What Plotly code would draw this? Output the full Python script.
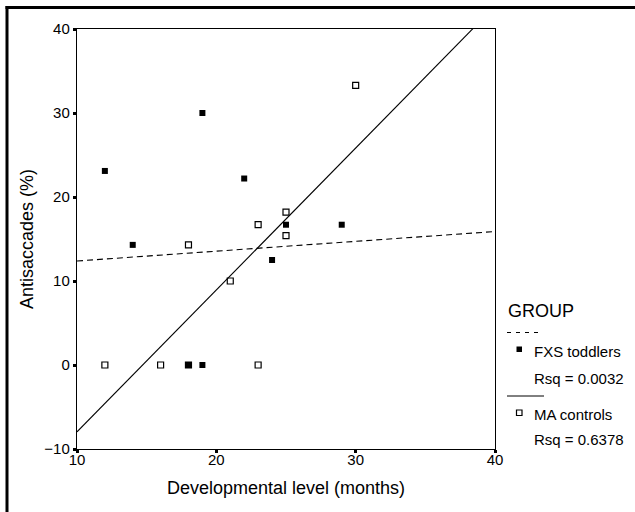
import numpy as np
import plotly.graph_objects as go

# ---------------- data ----------------
fxs_x = [12, 14, 18, 18, 19, 19, 22, 24, 25, 29]
fxs_y = [23.1, 14.3, 0, 0, 0, 30.0, 22.2, 12.5, 16.7, 16.7]
ma_x = [12, 16, 18, 18, 21, 23, 23, 25, 25, 30]
ma_y = [0, 0, 0, 14.3, 10.0, 0, 16.7, 18.2, 15.4, 33.3]
group_names = ["FXS toddlers", "MA controls"]
rsq_labels = ["Rsq = 0.0032", "Rsq = 0.6378"]
x_ticks = [10, 20, 30, 40]
y_ticks = [-10, 0, 10, 20, 30, 40]
x_range = [10, 40]
y_range = [-10, 40]

FONT = "Liberation Sans, Arial, sans-serif"
W, H = 635, 512
ML, MR, MT, MB = 77, 140, 29, 63
PW, PH = W - ML - MR, H - MT - MB


def px(xp):
    return (xp - ML) / PW


def py(yp):
    return (H - MB - yp) / PH


fig = go.Figure()

# scatter points (MA first so FXS sits on top)
fig.add_trace(go.Scatter(
    x=ma_x, y=ma_y, mode="markers", name=group_names[1], showlegend=False,
    marker=dict(symbol="square-open", size=6, color="black", line=dict(width=1.2, color="black")),
    cliponaxis=False))
fig.add_trace(go.Scatter(
    x=fxs_x, y=fxs_y, mode="markers", name=group_names[0], showlegend=False,
    marker=dict(symbol="square", size=6, color="black"),
    cliponaxis=False))

# linear fit lines computed from the data
for xs, ys, dash in [(fxs_x, fxs_y, "6px,4px"), (ma_x, ma_y, "solid")]:
    slope, icpt = np.polyfit(xs, ys, 1)
    lx = np.array(x_range, dtype=float)
    fig.add_trace(go.Scatter(
        x=lx, y=icpt + slope * lx, mode="lines", showlegend=False,
        line=dict(color="black", width=1.1, dash=dash), hoverinfo="skip"))

shapes = []
# outer frame lines (top and left)
shapes.append(dict(type="line", xref="paper", yref="paper",
                   x0=px(5.5), x1=px(640), y0=py(7.5), y1=py(7.5),
                   line=dict(color="black", width=3)))
shapes.append(dict(type="line", xref="paper", yref="paper",
                   x0=px(7), x1=px(7), y0=py(6), y1=py(520),
                   line=dict(color="black", width=3)))
# legend samples
shapes.append(dict(type="line", xref="paper", yref="paper",
                   x0=px(507), x1=px(543), y0=py(332.5), y1=py(332.5),
                   line=dict(color="black", width=1, dash="4px,5px")))
shapes.append(dict(type="rect", xref="paper", yref="paper",
                   x0=px(516.5), x1=px(522), y0=py(346.5), y1=py(352),
                   fillcolor="black", line=dict(width=0)))
shapes.append(dict(type="line", xref="paper", yref="paper",
                   x0=px(507), x1=px(544), y0=py(396), y1=py(396),
                   line=dict(color="black", width=1)))
shapes.append(dict(type="rect", xref="paper", yref="paper",
                   x0=px(516.5), x1=px(522), y0=py(410), y1=py(415.5),
                   fillcolor="white", line=dict(width=1.2, color="black")))

annotations = [
    dict(text="GROUP", x=px(506), y=py(311), font=dict(size=18)),
    dict(text=group_names[0], x=px(532), y=py(351), font=dict(size=15)),
    dict(text=rsq_labels[0], x=px(532), y=py(378), font=dict(size=15)),
    dict(text=group_names[1], x=px(532), y=py(414), font=dict(size=15)),
    dict(text=rsq_labels[1], x=px(532), y=py(439), font=dict(size=15)),
]
for a in annotations:
    a.update(xref="paper", yref="paper", xanchor="left", yanchor="middle",
             showarrow=False)
    a["font"].update(family=FONT, color="black")

axis_common = dict(
    showgrid=False, zeroline=False, showline=True, mirror=True,
    linecolor="black", linewidth=1.4, ticks="outside", ticklen=3, tickwidth=3,
    tickcolor="black", tickfont=dict(family=FONT, size=15, color="black"),
)

fig.update_layout(
    width=W, height=H, margin=dict(l=ML, r=MR, t=MT, b=MB, autoexpand=False),
    paper_bgcolor="white", plot_bgcolor="white",
    font=dict(family=FONT, color="black"),
    xaxis=dict(range=x_range, tickvals=x_ticks, **axis_common, ticklabelstandoff=-6,
               title=dict(text="Developmental level (months)",
                          font=dict(family=FONT, size=18, color="black"), standoff=14)),
    yaxis=dict(range=y_range, tickvals=y_ticks, **axis_common,
               title=dict(text="Antisaccades (%)",
                          font=dict(family=FONT, size=18, color="black"), standoff=6)),
    shapes=shapes, annotations=annotations, showlegend=False,
)

fig.write_html("out.html")
